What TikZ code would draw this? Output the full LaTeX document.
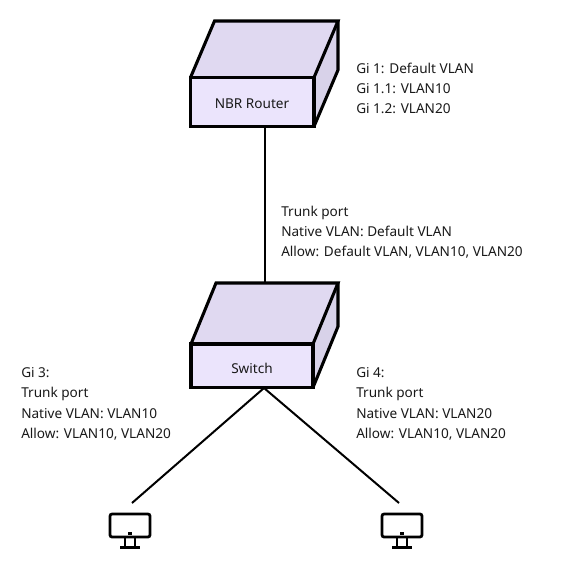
\documentclass[tikz,border=0pt]{standalone}
\usepackage{fontspec}
\setmainfont{Noto Sans}
\definecolor{boxfront}{HTML}{EBE4FC}
\definecolor{boxtop}{HTML}{E0D9F1}
\definecolor{boxside}{HTML}{D8D2E9}
\tikzset{
  edge/.style={line width=1.5pt,black},
  boxline/.style={line width=2.3pt,black,line join=miter},
  lab/.style={anchor=north west,align=left,inner sep=0pt,font=\fontsize{10.2pt}{15.1pt}\selectfont,text=black!90},
  boxname/.style={anchor=center,inner sep=0pt,font=\fontsize{10.2pt}{12pt}\selectfont,text=black!90},
  screen/.style={line width=2.1pt,black,rounded corners=1.6pt},
  stand/.style={line width=1.7pt,black},
}
\newcommand{\netbox}[6]{%
  % left right top-of-front bottom-of-front dx dy
  \fill[boxtop] (#1,#3)--(#1+#5,#3-#6)--(#2+#5,#3-#6)--(#2,#3)--cycle;
  \fill[boxside] (#2,#3)--(#2+#5,#3-#6)--(#2+#5,#4-#6)--(#2,#4)--cycle;
  \fill[boxfront] (#1,#3) rectangle (#2,#4);
  \draw[boxline] (#1,#4)--(#2,#4)--(#2,#3)--(#1,#3)--cycle;
  \draw[boxline] (#1,#3)--(#1+#5,#3-#6)--(#2+#5,#3-#6)--(#2,#3);
  \draw[boxline] (#2+#5,#3-#6)--(#2+#5,#4-#6)--(#2,#4);
}
\newcommand{\monitor}[1]{%
  \draw[screen] (#1-20,514)rectangle(#1+20,537);
  \fill[black] (#1-2,531.5) rectangle (#1+2,534.5);
  \draw[stand] (#1-5,537)--(#1-5,547) (#1+5,537)--(#1+5,547);
  \draw[stand] (#1-10,547.5)--(#1+10,547.5);
}
\begin{document}
\begin{tikzpicture}[x=0.75pt,y=-0.75pt]
\useasboundingbox (0,0) rectangle (568,570);
\fill[white] (0,0) rectangle (568,570);
\netbox{190.5}{314}{77.5}{126.5}{24}{56.5}
\netbox{191}{313}{344}{387.5}{25}{61}
\coordinate (routerbottom) at (265,126.5);
\coordinate (switchtop) at (265,283);
\coordinate (switchbottom) at (264,388);
\coordinate (pcleft) at (132,503);
\coordinate (pcright) at (399,503);
\draw[edge] (routerbottom)--(switchtop);
\draw[edge] (pcleft)--(switchbottom)--(pcright);
\node[boxname] (router) at (252,104) {NBR Router};
\node[boxname] (switch) at (252,368) {Switch};
\monitor{130}
\monitor{402}
\node[lab] (routerinfo) at (356,62.5) {Gi 1: Default VLAN\\Gi 1.1: VLAN10\\Gi 1.2: VLAN20};
\node[lab] (trunkinfo) at (281,205.5) {Trunk port\\Native VLAN: Default VLAN\\Allow: Default VLAN, VLAN10, VLAN20};
\node[lab] (gi3info) at (21,367.5) {Gi 3:\\Trunk port\\Native VLAN: VLAN10\\Allow: VLAN10, VLAN20};
\node[lab] (gi4info) at (356,367.5) {Gi 4:\\Trunk port\\Native VLAN: VLAN20\\Allow: VLAN10, VLAN20};
\end{tikzpicture}
\end{document}
